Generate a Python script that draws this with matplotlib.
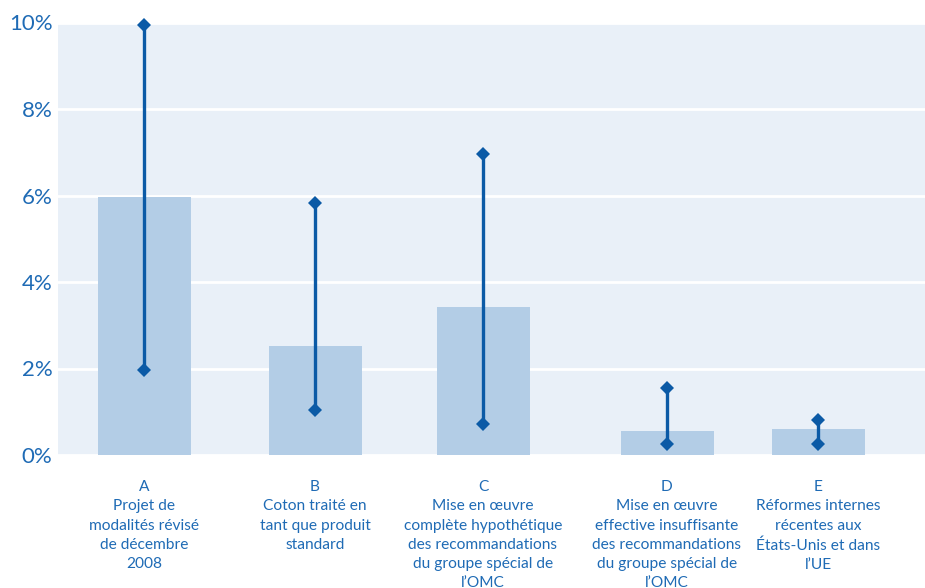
import matplotlib
matplotlib.use("Agg")
import matplotlib.pyplot as plt

categories = [
    "A\nProjet de\nmodalités révisé\nde décembre\n2008",
    "B\nCoton traité en\ntant que produit\nstandard",
    "C\nMise en œuvre\ncomplète hypothétique\ndes recommandations\ndu groupe spécial de\nl\u2019OMC",
    "D\nMise en œuvre\neffective insuffisante\ndes recommandations\ndu groupe spécial de\nl\u2019OMC",
    "E\nRéformes internes\nrécentes aux\nÉtats-Unis et dans\nl\u2019UE",
]
bar_values = [5.97, 2.52, 3.43, 0.56, 0.60]
range_low = [1.97, 1.04, 0.72, 0.25, 0.25]
range_high = [9.95, 5.83, 6.97, 1.55, 0.81]
yticks = [0, 2, 4, 6, 8, 10]
ytick_labels = ["0%", "2%", "4%", "6%", "8%", "10%"]

plt.rcParams['font.family'] = ['Lato', 'DejaVu Sans']

BG = "#e9f0f8"
BAR = "#b3cde6"
LINE = "#0b5aa6"
TXT = "#1f6bb5"

fig = plt.figure(figsize=(9.25, 5.88), dpi=100)
ax = fig.add_axes([58/925, 1-455/588, 1-58/925, (455-22.5)/588])
ax.set_facecolor(BG)

xpos = [144, 315, 483, 667, 818]
ax.bar(xpos, bar_values, width=93, color=BAR, zorder=2)
for x, lo, hi in zip(xpos, range_low, range_high):
    ax.plot([x, x], [lo, hi], color=LINE, lw=2.4, zorder=3,
            marker="D", markersize=7, markeredgewidth=0, solid_capstyle="butt",
            clip_on=False)

ax.set_xlim(58, 925)
ax.set_ylim(0, 10)
ax.set_yticks(yticks)
ax.set_yticklabels(ytick_labels)
ax.set_xticks(xpos)
ax.set_xticklabels(categories, linespacing=1.48)
ax.grid(axis="y", color="white", lw=2, zorder=1)
ax.set_axisbelow(True)
for s in ax.spines.values():
    s.set_visible(False)
ax.tick_params(axis="both", length=0, colors=TXT)
ax.tick_params(axis="y", labelsize=16, pad=4)
ax.tick_params(axis="x", labelsize=11.2, pad=18)
for lbl in ax.get_xticklabels():
    lbl.set_verticalalignment("top")

fig.savefig("out.png", dpi=100)
